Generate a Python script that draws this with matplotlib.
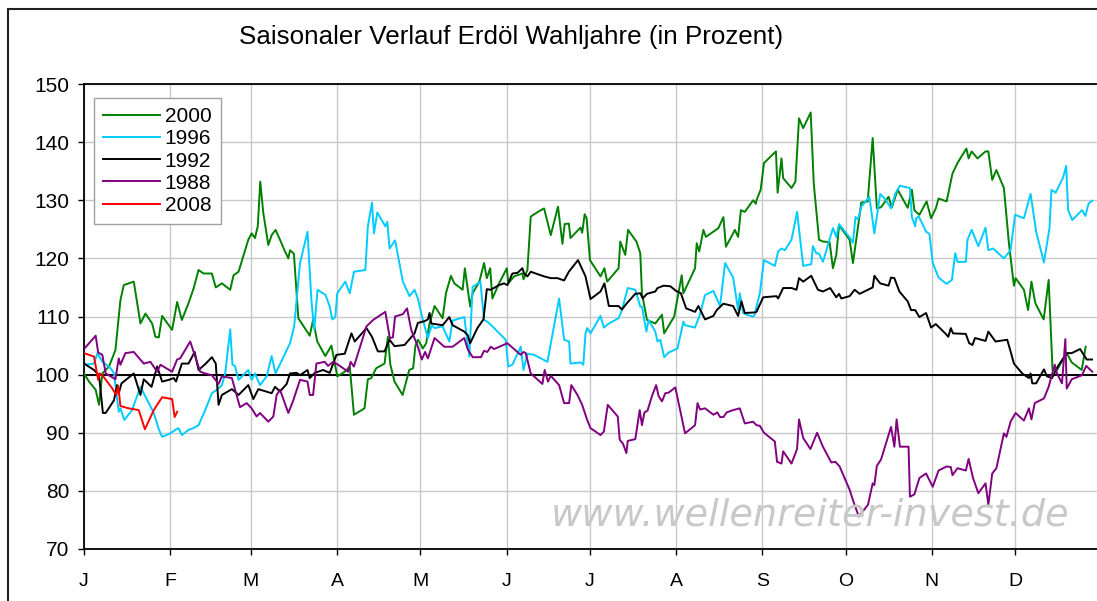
import numpy as np
import matplotlib
matplotlib.use("Agg")
import matplotlib.pyplot as plt
from matplotlib.patches import Rectangle

plt.rcParams['font.family'] = ['Liberation Sans', 'DejaVu Sans']

# day of year (leap year) -> value in percent
days_2000 = [0, 1.8, 4.2, 5.4, 6.6, 9, 11.3, 13.1, 14.3, 17.9, 20.3, 22.1, 24.5, 25.7, 26.9, 28.1,
             31.7, 33.5, 35.2, 37.6, 39.4, 41.2, 43, 46, 47.4, 49.6, 52.6, 53.8, 55.6,
             59.1, 60.3, 61.5, 62.5, 63.4, 64.5, 66.3, 67.5, 68.9, 70.5, 72.3, 73.5, 74.1, 75.5,
             77.1, 79.4, 81.2, 82.4, 83.9, 86.8, 89, 91.1, 93.8, 95.6, 97.1, 100.9, 102.1, 103.3,
             105.1, 108.1, 109.3, 110.2, 111.7, 114.6, 117, 118.4, 119.2,
             120.1, 121.9, 123.1, 124.3, 126.1, 129, 130.2, 132, 133.2, 136.2, 137, 138.9, 139.8,
             142.2, 143.9, 144.9, 146.1, 146.9, 149.3, 152.1, 152.6, 154.7, 157.7, 158.1, 159.5,
             160.7, 163.3, 165.5, 167.9, 170.5, 172.1, 172.9, 174.4, 175, 178.6, 179.2, 180.1, 180.8,
             182, 185.8, 187.2, 188.2, 192.3, 192.9, 194.7, 195.7, 198.7, 200.1, 200.7, 202.5, 205.5,
             207.9, 208.7, 212.3, 213.8, 215, 215.6, 219.8, 220.4, 221.3, 222.8, 223.7, 228.2, 230,
             230.9, 233.5, 234.1, 235.3, 236.3, 237.7, 240.7, 241.7,
             241.9, 243.4, 244.6, 248.9, 249.5, 250.9, 251.5, 254.5, 255.9, 257.2, 258.7, 261.4,
             262.5, 264.4, 265.8, 268.2, 269.4, 270.6, 271.6, 275.4, 276.6, 278.1, 279.6, 281.9,
             283.7, 285.2, 286.7, 289.4, 290.6, 292.7, 296.3, 297.8, 298.7,
             299.3, 300.5, 303.1, 304.7, 306.4, 307.4, 310.3, 312.4, 314.2, 317.4, 318.2, 319.3,
             321.4, 324.3, 325.3, 326.7, 328.2, 330.9, 332.7, 334.5, 335.1, 338.1, 339.6, 340.8,
             342.2, 345.2, 347, 348.4, 350, 353.5, 355.3, 358.9, 360.3]
vals_2000 = [100.2, 98.8, 97.4, 94.8, 100.2, 101.4, 104.2, 112.8, 115.4, 116, 108.8, 110.5, 108.8,
             106.5, 106.4, 110.1, 107.7, 112.5, 109.4, 112.3, 114.8, 118, 117.4, 117.4, 115, 115.7,
             114.6, 117.1, 117.7,
             123.2, 124.3, 123.5, 125.5, 133.2, 127.8, 122.3, 124, 124.9, 123.2, 121.2, 120, 121.4,
             120.8, 109.7, 108, 106.7, 109.4, 105.7, 103.2, 105, 99.7, 100.5, 101.4, 93.1, 94.2,
             99.2, 99.4, 101.1, 101.9, 106.5, 101.7, 98.8, 96.5, 100.8, 101.1, 104.9,
             106, 104.5, 105.4, 108.8, 111.8, 109.7, 114, 117, 115.7, 114.6, 118.3, 111.7, 114, 116,
             119.2, 116.6, 118.3, 113.1, 115.7, 118.3, 115.7, 116.9, 117.4, 116.4, 118, 127.2, 128,
             128.6, 124, 128.9, 122.5, 125.9, 126, 123.5, 125.3, 124.4, 127.6, 126.9,
             119.7, 116.9, 118.3, 116, 118.3, 122.9, 120.6, 124.9, 122.9, 120.9, 114, 109.4, 108.8,
             110.3, 107.1, 110, 114, 117.1, 114, 118.3, 122.6, 121.2, 124.9, 123.7, 125.2, 127.1,
             122, 124.3, 124.9, 123.7, 128.3, 128, 130, 129.4,
             130, 131.8, 136.4, 138.4, 131.3, 137.2, 133.8, 132.1, 133.2, 144.1, 142.4, 145.1,
             132.9, 123.2, 122.9, 122.8, 118.3, 120.6, 125.7, 123.2, 119.2, 124.3, 129.6, 129.8,
             140.7, 128.6, 128.8, 130.6, 128.8, 131.8, 128.7, 131.8, 128.3,
             128, 127.5, 129.8, 126.9, 128.6, 130.3, 129.8, 134.6, 136.4, 138.9, 137.2, 138.4,
             137.2, 138.4, 138.4, 133.5, 135.2, 132.1, 122.6, 115.3, 116.6, 114.6, 111.1, 116,
             112.3, 109.5, 116.3, 100.8, 100.8, 103.7, 102.1, 100.8, 104.8]

days_1996 = [0, 3.6, 4.8, 6.6, 9.6, 10.8, 11.9, 12.5, 13.1, 14.5, 17.3, 19, 20.3, 22.1, 25.1, 26.9,
             28.1, 31, 32.9, 34, 35.2, 37.6, 39.4, 41.2, 43.6, 46, 47.8, 49.6, 50.8, 52.6, 53.4,
             54.3, 55.6, 57.9,
             59.1, 60.3, 61.5, 63.3, 65.7, 67.5, 68.9, 74.1, 75.6, 77.7, 80.4, 81.8, 82.8, 84, 86.9,
             88.4, 89.3, 90.4, 91.1, 94, 95.6, 97.1, 101.2, 102.1, 103.6, 104.3, 105.5, 108.4,
             109.1, 109.9, 111.9, 114.7, 117.1, 118.9,
             120.1, 121.9, 123.7, 125.1, 126.1, 129, 131.4, 132.6, 136.8, 138.6, 139.8, 142.6,
             143.9, 145.1, 146.9, 151.7, 152.6, 154.1, 157.1, 158.1, 159.5, 161.9, 166.7, 170.9,
             172.7, 174.5, 175, 178.6, 179.6, 180.4,
             181, 182.2, 185.8, 187, 188.8, 192.3, 193.5, 195.6, 198.3, 200.1, 200.7, 202.3, 203.1,
             205.5, 206.3, 207.3, 208.7, 210.3, 213.5, 215.6, 216.2, 219.8, 221.6, 223.4, 226.4,
             228.8, 230.6, 233.5, 235.3, 235.9, 237.1, 238.3, 240.7, 241.3,
             241.9, 243.1, 244.6, 248.5, 249.7, 250.9, 252.1, 254.5, 256.5, 258.7, 261.6, 262.2,
             263.4, 264.4, 265.8, 269.4, 270.6, 271.6, 275.4, 276.6, 277.5, 278.4, 279.6, 282.5,
             284.3, 286.4, 288.5, 290.3, 291.9, 293.5, 297.1, 297.8, 299,
             299.3, 300.3, 302.9, 304.1, 305.3, 307.4, 310.3, 312.2, 313.4, 314.2, 317.2, 317.8,
             319.3, 321.7, 324.3, 325.3, 327, 330.9, 333.3, 334.9, 338.1, 340.5, 342.5, 345.3,
             347.3, 348, 349.5, 352.1, 353.3, 354, 355.5, 359, 360.2, 361.4, 362.7]
vals_1996 = [101.7, 101.9, 103.7, 102.2, 101.1, 100.2, 95.9, 93.6, 94.2, 92.2, 93.9, 96.2, 97.9,
             96.2, 93.4, 90.6, 89.3, 89.9, 90.5, 90.8, 89.6, 90.5, 90.8, 91.3, 93.9, 96.8, 97.4,
             98.2, 100.2, 107.8, 101.7, 101.5, 99.1, 100.2,
             100.8, 99.1, 100.2, 98.2, 99.7, 103.2, 100.2, 105.4, 108.3, 119.2, 124.6, 112.8,
             107.7, 114.6, 113.7, 111.7, 109.5, 109.9, 114, 116, 114, 117.7, 118, 125.5, 129.6,
             124.3, 127.9, 125.5, 126.3, 121.7, 123.1, 116, 113.5, 114.6,
             113.1, 109.4, 106.3, 108.5, 108, 108.3, 105.7, 109.3, 109.9, 103.1, 115.1, 116, 109.4,
             109.1, 108.3, 106, 101.4, 101.7, 104.8, 100.8, 103.6, 103.4, 102.2, 113.1, 106, 105.7,
             101.9, 102.1, 101.7, 107.1,
             108, 107.1, 110.1, 108.1, 108.8, 109.7, 111.1, 114.9, 114.6, 111.7, 111.7, 107.4,
             109.4, 107.4, 105.7, 106, 103, 103.8, 104.5, 109.1, 108.5, 108.1, 110.4, 113.7, 114.4,
             111.8, 119.2, 116.7, 111.1, 114, 110.6, 110.3, 110, 110.3,
             111.7, 114, 119.7, 118.7, 121.2, 121.7, 121.4, 123.2, 128, 118.7, 119, 122.1, 120.9,
             120.8, 119.4, 125.2, 123.7, 125.9, 123.6, 122.7, 127.1, 126.7, 128.9, 130.6, 124.3,
             131.1, 130, 128.6, 131.2, 132.5, 132.1, 127.1, 125.5,
             126.9, 127.2, 124.6, 124.2, 119.2, 116.7, 115.6, 116.3, 120.9, 119.4, 119.4, 123.2,
             124.9, 122.1, 125.3, 121.4, 121.7, 120, 121.4, 127.5, 126.9, 131.1, 124.6, 119.3,
             125.2, 131.8, 131.3, 133.8, 135.9, 128.3, 126.6, 128.3, 127.3, 129.5, 129.9]

days_1992 = [0, 3.6, 5.4, 6.8, 7.8, 10.8, 11.9, 12.5, 13.5, 17.9, 20.3, 21.5, 24.3, 26.3, 28.1, 30.5,
             32.3, 33.1, 35.2, 37.6, 39.8, 41.2, 43.6, 46, 47.4, 48.4, 49.6, 53.2, 55.6, 57.9,
             59.1, 60.9, 62.7, 67.5, 68.7, 70.5, 72.9, 74.1, 76.5, 77.7, 80.4, 81.2, 83, 86, 88.4,
             90.8, 93.8, 96.2, 97.4, 101.6, 103.6, 105.7, 108.1, 109.9, 111.7, 115.3, 118.9,
             120.1, 122.5, 123.7, 124.3, 124.9, 129, 131.4, 132.6, 136.8, 138, 138.9, 141.5, 143.7,
             144.9, 146.3, 149.3, 151.1, 152.3, 154.1, 155.9, 157.7, 158.3, 159.5, 160.7, 165.5,
             167.9, 170.3, 172.7, 174.4, 177.7, 180.4,
             182.2, 185.8, 187.2, 188.8, 192.3, 193.5, 195.3, 198.3, 200.1, 201, 202.5, 205.5,
             206.3, 208.5, 210.9, 213, 214.7, 216.6, 219.8, 221, 223.4, 226.4, 227.6, 230, 233.5,
             235.3, 236.5, 237.7, 241.3,
             241.9, 244.3, 249.1, 249.7, 251.5, 254.5, 256.3, 257.2, 258.7, 261.6, 264, 265.8,
             268.4, 270.6, 271.6, 272.4, 275.4, 277.2, 279, 283.7, 284.3, 286.4, 289.4, 290.3,
             291.5, 293.3, 296.3, 297.5, 299,
             300.5, 302.9, 304.7, 306.4, 310, 310.9, 311.8, 312.6, 317.2, 318.4, 319.6, 320.5,
             324.3, 325.3, 327.9, 332.1, 333.3, 334.5, 337.5, 339.9, 340.5, 341.1, 342.5, 345.3,
             346.4, 348.2, 350.4, 353.5, 355.3, 358.3, 360.7, 362.6]
vals_1992 = [101.9, 100.8, 99.9, 93.4, 93.4, 95.6, 98.2, 96.8, 98.5, 100.2, 96.5, 99.2, 97.9, 101.4,
             98.8, 99.1, 99.4, 98.8, 101.9, 101.9, 103.9, 100.8, 101.8, 103, 101.9, 94.8, 96.5,
             97.5, 96.5, 97.6,
             98.2, 95.8, 97.5, 96.8, 97.9, 97.1, 98.4, 100.2, 100.3, 99.9, 100.8, 99.4, 100.3,
             100.8, 100.3, 103.4, 103.6, 107.1, 105.7, 108, 106.5, 104, 104, 106, 104.9, 105.1, 107.1,
             108.9, 109.2, 109.5, 110.6, 108.8, 108.5, 109.9, 108.5, 107.4, 106.8, 105.4, 108,
             109.5, 114.7, 114.6, 115.4, 115.7, 115.4, 117.4, 117.5, 118.3, 117.4, 116.9, 117.7,
             116.9, 116.6, 116.6, 116.2, 117.7, 119.7, 116.9,
             113, 114.3, 115.7, 111.8, 111.8, 111.2, 112.3, 113.9, 114, 113.1, 113.9, 114.3, 114.9,
             115.3, 115.2, 114.4, 114, 111.4, 110.8, 111.8, 109.5, 110.1, 111.1, 112.2, 111.8,
             110.1, 112.6, 110.6, 110.7,
             110.8, 113.3, 113.5, 113.1, 114.9, 114.9, 114.6, 116.6, 116, 117, 114.6, 114.3, 114.9,
             113.3, 113.9, 113.1, 113.5, 114.6, 113.9, 115, 117, 115.7, 115.3, 116.7, 116.6, 114.3,
             112.6, 111.1, 111.1,
             109.9, 110.6, 108.1, 108.7, 107, 106.5, 108, 107.1, 107, 105.4, 105.1, 106.3, 105.8,
             107.4, 105.7, 106, 104, 101.9, 100.2, 99.4, 100.2, 98.5, 98.5, 100.9, 99.7, 99.4,
             101.5, 103.7, 103.7, 104.4, 102.6, 102.6]

days_1988 = [0, 4.2, 5.1, 6.6, 7.8, 9.6, 11.3, 12.5, 13.1, 14.9, 17.9, 21.5, 23.9, 26.3, 27.5, 31.7,
             33.5, 34.6, 38.2, 40, 41.8, 43.6, 46, 48.4, 49.6, 53.2, 56.1, 58.5,
             60.3, 62.1, 63.3, 66.3, 68.1, 69.3, 70.5, 73.5, 75.3, 77.7, 80.4, 81.2, 82.4, 83.6,
             86.6, 87.8, 89.6, 91.4, 95, 95.9, 97.1, 101.6, 104, 108.4, 110, 111.1, 111.9, 114.7,
             116.2, 117.7,
             120.1, 121.5, 122.7, 123.7, 126.1, 129.6, 132.6, 136.8, 138, 139.8, 142.8, 143.9,
             145.1, 146.3, 147.5, 152.3, 155.9, 157.1, 158.1, 158.9, 160.7, 164.9, 165.7, 166.9,
             167.9, 170.9, 172.7, 174.5, 175.3, 177.5, 179.2,
             181, 182.2, 185.8, 187, 188.4, 192, 192.7, 193.9, 195.1, 195.6, 198.3, 199.9, 200.7,
             201.6, 202.7, 204.3, 205.8, 206.7, 207.9, 209.1, 210.3, 212.7, 216.2, 219.8, 220.7,
             221.6, 223.4, 226.4, 227.8, 228.8, 230, 231.2, 233.5, 235.9, 237.7, 240.7,
             241.9, 243.1, 244.6, 246.7, 248.5, 249.3, 250.9, 251.5, 254.5, 256.5, 257.2, 258.7,
             261.3, 263.7, 265.8, 268.8, 270.3, 271.8, 275.4, 276.6, 278.7, 282, 283.7, 284.3,
             285.2, 286.7, 290.3, 291.5, 292.3, 293.5, 296.6, 297.1, 298.7,
             300.5, 302.9, 305.3, 307.4, 310.3, 311.8, 312.4, 314.2, 317.2, 318.2, 319.8, 321.7,
             324.3, 325.3, 326.7, 328.2, 330.9, 331.8, 333.3, 335.1, 338.1, 339.9, 340.8, 342,
             345.3, 347, 348, 349.2, 350, 351.8, 353, 353.5, 355.3, 359, 360.5, 362.7]
vals_1988 = [104.4, 106.7, 103.8, 103.4, 100.2, 99.7, 99.2, 102.8, 101.7, 103.7, 103.9, 101.9,
             102.2, 100.5, 101.7, 100.5, 102.6, 102.8, 105.7, 103.1, 100.5, 100.2, 99.9, 98.4, 99.7,
             99.4, 94.4, 95.1,
             94.2, 92.8, 93.4, 91.9, 92.8, 96.5, 97.4, 93.4, 95.6, 99.1, 98.8, 96.5, 96.5, 101.9,
             102.2, 101.5, 102.2, 101.7, 100.5, 102.2, 101.4, 108.3, 109.4, 110.8, 106.3, 106.4,
             110, 110.4, 111.4, 107.7,
             104.8, 102.6, 103.9, 102.8, 106.3, 104.8, 104.8, 106.3, 104.4, 103, 103, 104.1, 103.9,
             104.8, 104.4, 105.4, 103.9, 103.4, 103.9, 103.7, 100.2, 98.4, 100.8, 98.8, 99.8, 98.2,
             95.1, 95.1, 98.2, 96.5, 94.8,
             92.2, 90.8, 89.6, 90.2, 94.8, 92.8, 88.8, 88.1, 86.5, 88.6, 88.9, 93.9, 91.3, 93.5,
             93.8, 96.3, 98.2, 96.3, 95.4, 96.8, 96.9, 97.8, 89.9, 91.3, 95.1, 94, 94.2, 93.1, 93.5,
             92.7, 92.7, 93.5, 93.9, 94.2, 91.6, 91.9,
             91.3, 91.2, 90, 89.2, 88.5, 85, 84.7, 86.8, 84.7, 87.2, 92.3, 89.1, 87.2, 90, 87.6,
             84.9, 85, 84.2, 80.2, 78.4, 75.6, 77.6, 81.3, 81, 84.3, 85.4, 91, 87.6, 92.3, 87.6,
             87.6, 79, 79.4,
             82.2, 83, 80.7, 83.5, 84.2, 84.1, 82.7, 83.9, 83.5, 85.5, 82.2, 79.6, 81.3, 77.6, 83,
             83.9, 89.9, 89.3, 91.9, 93.4, 92.1, 94.2, 92.3, 95.1, 95.9, 97.9, 99.7, 101.7, 100.2,
             98.5, 106.1, 97.6, 99.2, 99.9, 101.5, 100.5]

days_2008 = [0, 3.6, 5.1, 5.6, 6.6, 10.2, 11.6, 12.3, 13.1, 16.1, 19.7, 21.9, 25.1, 26.3, 28.1,
             31.7, 32.6, 33.5]
vals_2008 = [103.7, 103.1, 99.1, 100.2, 99.9, 97.6, 96.5, 98.1, 94.6, 94.2, 93.9, 90.6, 93.9, 94.8,
             96.1, 95.8, 92.7, 93.6]

month_starts = [0, 31, 60, 91, 121, 152, 182, 213, 244, 274, 305, 335]
month_labels = ['J', 'F', 'M', 'A', 'M', 'J', 'J', 'A', 'S', 'O', 'N', 'D']

W, H = 1097, 601
fig = plt.figure(figsize=(W / 100, H / 100), dpi=100)
ax = fig.add_axes([84 / W, (H - 549) / H, 366 * 2.78 / W, 465 / H])

ax.plot(days_2000, vals_2000, color='#008000', lw=1.4, label='2000', zorder=3)
ax.plot(days_1996, vals_1996, color='#00ccff', lw=1.4, label='1996', zorder=3)
ax.plot(days_1992, vals_1992, color='black', lw=1.4, label='1992', zorder=3)
ax.plot(days_1988, vals_1988, color='#800080', lw=1.4, label='1988', zorder=3)
ax.plot(days_2008, vals_2008, color='#ff0000', lw=1.4, label='2008', zorder=4)
ax.axhline(100, color='black', lw=1.4, zorder=2)

ax.set_xlim(0, 366)
ax.set_ylim(70, 150)
ax.set_yticks(np.arange(70, 151, 10))
ax.set_xticks(month_starts)
ax.set_xticklabels(month_labels)
ax.grid(True, color='#c8c8c8', lw=1.0, zorder=0)
ax.tick_params(axis='y', direction='out', length=4.5, width=1, pad=6, labelsize=15)
ax.tick_params(axis='x', direction='out', length=4, width=1, pad=13, labelsize=14)
for s in ['left', 'bottom', 'top']:
    ax.spines[s].set_linewidth(1.3)
ax.spines['right'].set_visible(False)

leg = ax.legend(loc='upper left', bbox_to_anchor=(10 / 1017.5, 451 / 465), fontsize=15,
                frameon=True, fancybox=False, edgecolor='#a0a0a0', framealpha=1,
                handlelength=2.7, handletextpad=0.25, labelspacing=0.15, borderpad=0.45,
                borderaxespad=0)
leg.get_frame().set_linewidth(1.0)

fig.text(511 / W, 1 - 37 / H, 'Saisonaler Verlauf Erdöl Wahljahre (in Prozent)',
         ha='center', va='center', fontsize=18.7)
fig.text(810 / W, 1 - 515 / H, 'www.wellenreiter-invest.de', ha='center', va='center',
         fontsize=27.5, style='italic', color='#c8c8c8', family='DejaVu Sans', zorder=1)

fig.patches.append(Rectangle((8 / W, -0.1), 2, 1.1 - 9 / H, transform=fig.transFigure,
                             fill=False, edgecolor='#222222', lw=1.5))

fig.savefig('out.png', dpi=100)
